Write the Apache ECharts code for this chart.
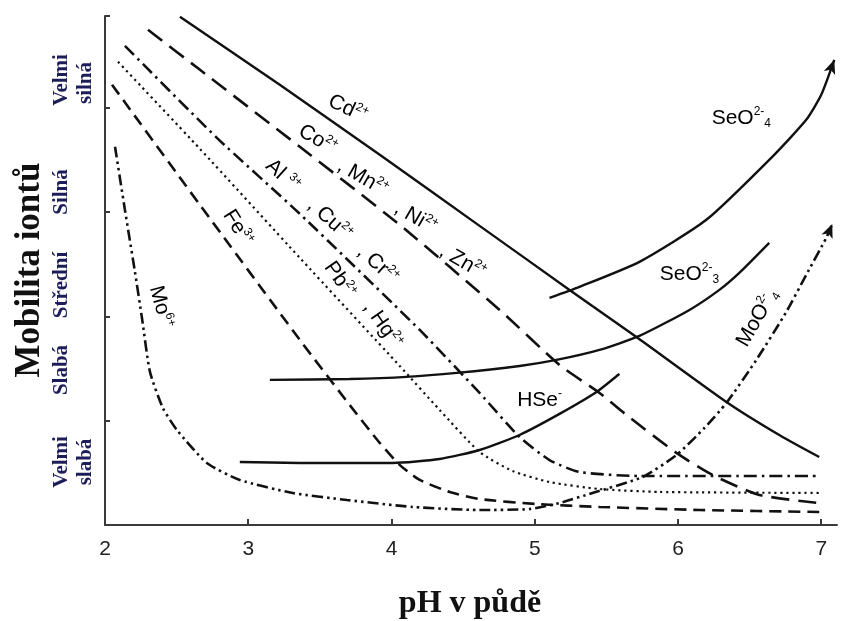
<!DOCTYPE html>
<html><head><meta charset="utf-8">
<script src="https://cdn.jsdelivr.net/npm/echarts@6/dist/echarts.min.js"></script>
<style>html,body{margin:0;padding:0;background:#fff}#c{width:841px;height:621px}</style>
</head><body><div id="c"></div>
<script>
// ---- data (pH, mobility class units: 0 = bottom, boundaries at 1..4) ----
const xTickValues = [2, 3, 4, 5, 6, 7];
const yTickValues = [1, 2, 3, 4, 4.88];
const mobilityClasses = ['Velmi silná', 'Silná', 'Střední', 'Slabá', 'Velmi slabá'];

const cdPts = [[2.523,4.873],[3.220,4.221],[3.918,3.549],[4.615,2.868],[5.243,2.254],[5.710,1.803],[6.338,1.180],[6.707,0.863],[6.986,0.652]];
const coMnNiZnPts = [[2.300,4.748],[2.663,4.364],[3.360,3.626],[4.057,2.878],[4.755,2.062],[5.173,1.535],[5.452,1.266],[5.640,1.055],[5.989,0.691],[6.240,0.480],[6.568,0.288],[6.986,0.211]];
const alCuCrPts = [[2.139,4.594],[2.781,3.712],[3.360,2.983],[4.197,1.870],[4.615,1.266],[4.894,0.844],[5.103,0.623],[5.312,0.508],[5.731,0.470],[6.986,0.470]];
const pbHgPts = [[2.091,4.441],[2.662,3.607],[3.360,2.561],[4.057,1.525],[4.336,1.103],[4.615,0.700],[4.845,0.518],[5.103,0.412],[5.452,0.345],[5.870,0.317],[6.986,0.307]];
const fePts = [[2.049,4.221],[2.662,3.070],[3.360,1.775],[3.708,1.151],[3.918,0.787],[4.057,0.576],[4.197,0.432],[4.406,0.317],[4.615,0.249],[5.013,0.201],[5.452,0.173],[6.149,0.144],[6.986,0.125]];
const moPts = [[2.070,3.626],[2.139,3.022],[2.209,2.427],[2.258,1.986],[2.314,1.468],[2.404,1.122],[2.502,0.911],[2.711,0.595],[2.941,0.432],[3.311,0.307],[3.688,0.240],[4.148,0.173],[4.615,0.144],[4.964,0.153],[5.173,0.211],[5.403,0.307],[5.752,0.460],[5.989,0.671],[6.184,0.930],[6.338,1.170],[6.547,1.583],[6.756,2.043],[6.895,2.398],[7.035,2.753],[7.077,2.887]];
const seO4Pts = [[5.103,2.177],[5.312,2.283],[5.731,2.523],[6.198,2.926],[6.658,3.530],[6.895,3.885],[7.000,4.125],[7.091,4.460]];
const seO3Pts = [[3.151,1.391],[3.708,1.400],[4.106,1.420],[4.455,1.458],[4.894,1.525],[5.152,1.583],[5.452,1.679],[5.731,1.813],[6.080,2.062],[6.289,2.254],[6.428,2.417],[6.637,2.705]];
const hsePts = [[2.941,0.604],[3.360,0.595],[4.008,0.595],[4.336,0.633],[4.615,0.719],[4.894,0.863],[5.173,1.065],[5.431,1.275],[5.591,1.449]];

// curve labels: [text, pH, mobility, rotation]
const curveLabels = [
  ['Cd{s|2+}', 3.695, 3.990, -25],
  ['Co{s|2+}', 3.485, 3.693, -30],
  [', Mn{s|2+}', 3.799, 3.328, -30],
  [', Ni{s|2+}', 4.169, 2.945, -30],
  [', Zn{s|2+}', 4.497, 2.523, -30],
  ['Al {s|3+}', 3.241, 3.348, -42],
  [', Cu{s|2+}', 3.569, 2.926, -42],
  [', Cr{s|2+}', 3.904, 2.494, -42],
  ['Pb{s|2+}', 3.639, 2.350, -55],
  [', Hg{s|2+}', 3.939, 1.918, -55],
  ['Fe{s|3+}', 2.927, 2.849, -58],
  ['Mo{s|6+}', 2.391, 2.091, -75],
  ['SeO{s|2-}{b|4}', 6.442, 3.904, 0],
  ['SeO{s|2-}{b|3}', 6.080, 2.408, 0],
  ['HSe{s|-}', 5.034, 1.199, 0],
  ['MoO{s|2-}{b|4}', 6.554, 1.986, 60]
];

const ink = '#111';
function lineSeries(name, pts, dash, width, arrowRot) {
  const data = pts.map(p => p.slice());
  if (arrowRot !== undefined) {
    const last = data.pop();
    data.push({ value: last, symbol: 'arrow', symbolSize: [9, 14], symbolRotate: arrowRot, itemStyle: { color: ink, opacity: 1 } });
  }
  return {
    name, type: 'line', data, smooth: 0.2,
    symbol: 'none', showSymbol: arrowRot !== undefined, silent: true,
    lineStyle: { color: ink, width: width || 2.2, type: dash || 'solid', cap: 'butt' },
    itemStyle: { color: ink }, z: 3
  };
}

const chart = echarts.init(document.getElementById('c'), null, { renderer: 'canvas' });
const sans = '"Liberation Sans", Arial, sans-serif';
const serif = '"Liberation Serif", "Times New Roman", serif';
const classColor = '#1d1d5a';

function vText(x, y, text, size, color) {
  return { type: 'text', x, y, rotation: Math.PI / 2, style: { text, fontSize: size, fontWeight: 'bold', fontFamily: serif, fill: color, align: 'center', verticalAlign: 'middle' } };
}

const option = {
  animation: false,
  backgroundColor: '#fff',
  grid: { left: 105, right: 4, top: 16, bottom: 96, containLabel: false, outerBoundsMode: 'none' },
  xAxis: {
    type: 'value', min: 2, max: 7.11, interval: 1,
    axisLine: { lineStyle: { color: '#3a3a3a', width: 2 } },
    axisTick: { inside: true, length: 6, lineStyle: { color: '#3a3a3a', width: 2 }, customValues: xTickValues },
    axisLabel: { color: '#222', fontSize: 21, fontFamily: sans, margin: 14, customValues: xTickValues },
    splitLine: { show: false }
  },
  yAxis: {
    type: 'value', min: 0, max: 4.88,
    axisLine: { show: true, lineStyle: { color: '#3a3a3a', width: 2 } },
    axisTick: { show: true, inside: true, length: 5, lineStyle: { color: '#3a3a3a', width: 2 }, customValues: yTickValues },
    axisLabel: { show: false },
    splitLine: { show: false }
  },
  series: [
    lineSeries('Cd2+', cdPts, 'solid', 2.4),
    lineSeries('Co2+, Mn2+, Ni2+, Zn2+', coMnNiZnPts, [18, 9], 2.6),
    lineSeries('Al3+, Cu2+, Cr2+', alCuCrPts, [13, 5, 2.5, 5], 2.6),
    lineSeries('Pb2+, Hg2+', pbHgPts, [2.2, 3.8], 2.2),
    lineSeries('Fe3+', fePts, [12, 7], 2.6),
    lineSeries('Mo6+ / MoO4 2-', moPts, [11, 4, 2.5, 4, 2.5, 4], 2.6, -22),
    lineSeries('SeO4 2-', seO4Pts, 'solid', 2.4, -20),
    lineSeries('SeO3 2-', seO3Pts, 'solid', 2.4),
    lineSeries('HSe-', hsePts, 'solid', 2.4),
    {
      type: 'scatter', silent: true, symbolSize: 0, z: 5,
      itemStyle: { opacity: 1, color: '#000' },
      data: curveLabels.map(l => ({ value: [l[1], l[2]], label: { rotate: l[3], formatter: l[0] } })),
      label: {
        show: true, position: 'inside', align: 'center', verticalAlign: 'middle',
        color: '#000', opacity: 1, fontSize: 21, fontFamily: sans, lineHeight: 24,
        rich: {
          s: { fontSize: 12, fontFamily: sans, color: '#000', verticalAlign: 'top', lineHeight: 12 },
          b: { fontSize: 12, fontFamily: sans, color: '#000', verticalAlign: 'bottom', lineHeight: 12 }
        }
      }
    }
  ],
  graphic: [
    vText(30, 270, 'Mobilita iontů', 35, '#111'),
    vText(62, 80, mobilityClasses[0].split(' ')[0], 21, classColor),
    vText(86, 83, mobilityClasses[0].split(' ')[1], 21, classColor),
    vText(62, 192, mobilityClasses[1], 21, classColor),
    vText(62, 285, mobilityClasses[2], 21, classColor),
    vText(62, 370, mobilityClasses[3], 21, classColor),
    vText(62, 462, mobilityClasses[4].split(' ')[0], 21, classColor),
    vText(86, 462, mobilityClasses[4].split(' ')[1], 21, classColor),
    { type: 'text', x: 470, y: 604, style: { text: 'pH v půdě', fontSize: 32, fontWeight: 'bold', fontFamily: serif, fill: '#111', align: 'center', verticalAlign: 'middle' } }
  ]
};
chart.setOption(option);
</script>
</body></html>
